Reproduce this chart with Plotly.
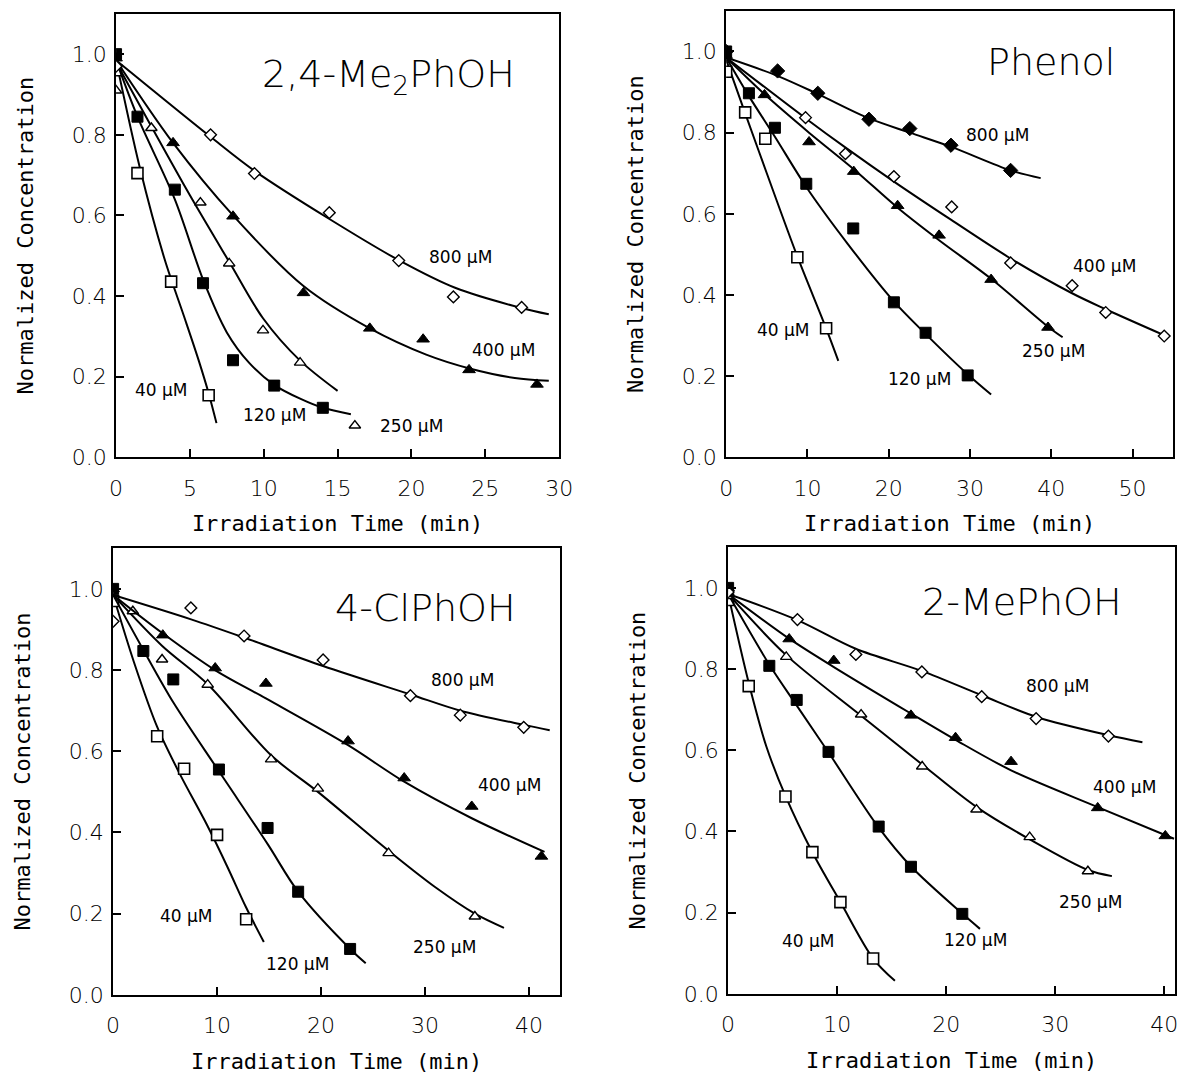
import plotly.graph_objects as go

# ---------------- Data ----------------
# Panel A: 2,4-Me2PhOH
dmp_40_t = [0, 1.45, 3.73, 6.27]
dmp_40_c = [0.96, 0.705, 0.436, 0.154]
dmp_40_fit_t = [0, 1.6, 3.3, 4.6, 5.6, 6.3, 6.8]
dmp_40_fit_c = [0.985, 0.72, 0.49, 0.35, 0.24, 0.155, 0.085]
dmp_120_t = [0, 1.45, 3.98, 5.89, 7.92, 10.71, 14.0]
dmp_120_c = [1.0, 0.845, 0.664, 0.432, 0.241, 0.178, 0.123]
dmp_120_fit_t = [0, 1.45, 3.98, 5.9, 7.5, 9.0, 10.7, 12.5, 14.0, 15.9]
dmp_120_fit_c = [0.985, 0.845, 0.64, 0.44, 0.31, 0.235, 0.18, 0.145, 0.123, 0.107]
dmp_250_t = [0, 2.39, 5.71, 7.66, 9.95, 12.46, 16.17]
dmp_250_c = [0.91, 0.817, 0.632, 0.481, 0.315, 0.235, 0.079]
dmp_250_fit_t = [0, 2.4, 5.0, 7.66, 9.95, 12.46, 15.0]
dmp_250_fit_c = [0.98, 0.82, 0.65, 0.485, 0.345, 0.24, 0.165]
dmp_400_t = [0, 3.86, 7.92, 12.69, 17.18, 20.79, 23.9, 28.5]
dmp_400_c = [0.99, 0.78, 0.598, 0.408, 0.32, 0.293, 0.217, 0.181]
dmp_400_fit_t = [0, 3.86, 7.92, 12.69, 17.18, 21.0, 24.0, 27.0, 29.3]
dmp_400_fit_c = [0.985, 0.78, 0.6, 0.425, 0.32, 0.255, 0.22, 0.197, 0.19]
dmp_800_t = [0, 6.4, 9.37, 14.44, 19.14, 22.84, 27.46]
dmp_800_c = [0.97, 0.80, 0.704, 0.607, 0.488, 0.398, 0.372]
dmp_800_fit_t = [0, 6.4, 9.4, 14.5, 19.2, 23.0, 27.5, 29.3]
dmp_800_fit_c = [0.985, 0.795, 0.71, 0.59, 0.488, 0.42, 0.37, 0.355]

# Panel B: Phenol
phe_40_t = [0, 2.34, 4.82, 8.76, 12.3]
phe_40_c = [0.95, 0.85, 0.785, 0.493, 0.318]
phe_40_fit_t = [0, 2.3, 5.0, 8.76, 12.3, 13.8]
phe_40_fit_c = [0.98, 0.85, 0.7, 0.495, 0.318, 0.238]
phe_120_t = [0, 2.8, 6.0, 9.86, 15.64, 20.64, 24.54, 29.72]
phe_120_c = [1.0, 0.897, 0.812, 0.674, 0.564, 0.382, 0.307, 0.202]
phe_120_fit_t = [0, 2.8, 6.0, 9.9, 15.0, 20.6, 24.5, 29.7, 32.6]
phe_120_fit_c = [0.985, 0.89, 0.79, 0.665, 0.525, 0.385, 0.305, 0.205, 0.155]
phe_250_t = [0, 4.72, 10.2, 15.7, 21.1, 26.2, 32.6, 39.6]
phe_250_c = [0.99, 0.893, 0.777, 0.704, 0.62, 0.547, 0.438, 0.32]
phe_250_fit_t = [0, 4.7, 10.2, 15.7, 21.1, 26.2, 32.6, 39.6, 41.4]
phe_250_fit_c = [0.985, 0.895, 0.8, 0.71, 0.615, 0.535, 0.44, 0.322, 0.296]
phe_400_t = [9.77, 14.68, 20.64, 27.75, 35.0, 42.57, 46.7, 53.9]
phe_400_c = [0.837, 0.748, 0.692, 0.617, 0.479, 0.423, 0.357, 0.299]
phe_400_fit_t = [0, 9.8, 14.7, 20.6, 27.7, 35.0, 42.5, 46.7, 54.0]
phe_400_fit_c = [0.985, 0.835, 0.763, 0.68, 0.585, 0.49, 0.405, 0.365, 0.3]
phe_800_t = [0, 6.33, 11.28, 17.57, 22.6, 27.66, 35.0]
phe_800_c = [1.0, 0.952, 0.897, 0.833, 0.81, 0.769, 0.707]
phe_800_fit_t = [0, 6.3, 11.3, 17.6, 22.6, 27.7, 35.0, 38.7]
phe_800_fit_c = [0.985, 0.94, 0.895, 0.835, 0.8, 0.765, 0.707, 0.688]

# Panel C: 4-ClPhOH
clp_40_t = [0, 4.24, 6.83, 10.0, 12.8]
clp_40_c = [0.97, 0.637, 0.557, 0.394, 0.186]
clp_40_fit_t = [0, 2.0, 4.24, 6.5, 9.0, 11.0, 12.8, 14.5]
clp_40_fit_c = [0.985, 0.82, 0.66, 0.54, 0.42, 0.315, 0.215, 0.13]
clp_120_t = [0, 2.91, 5.79, 10.18, 14.86, 17.8, 22.8]
clp_120_c = [1.0, 0.847, 0.777, 0.555, 0.411, 0.254, 0.113]
clp_120_fit_t = [0, 2.9, 5.8, 10.2, 14.9, 17.8, 22.8, 24.3]
clp_120_fit_c = [0.985, 0.85, 0.72, 0.55, 0.37, 0.254, 0.113, 0.078]
clp_250_t = [1.9, 4.71, 9.1, 15.2, 19.7, 26.5, 34.8]
clp_250_c = [0.945, 0.826, 0.764, 0.58, 0.508, 0.349, 0.193]
clp_250_fit_t = [0, 4.7, 9.1, 15.2, 19.7, 26.5, 31.0, 34.8, 37.6]
clp_250_fit_c = [0.985, 0.86, 0.765, 0.59, 0.5, 0.355, 0.265, 0.2, 0.165]
clp_400_t = [0, 4.78, 9.82, 14.7, 22.6, 28.0, 34.5, 41.2]
clp_400_c = [1.0, 0.886, 0.805, 0.767, 0.625, 0.534, 0.464, 0.341]
clp_400_fit_t = [0, 4.8, 9.8, 14.7, 22.6, 28.0, 34.5, 41.5]
clp_400_fit_c = [0.985, 0.89, 0.8, 0.73, 0.615, 0.525, 0.435, 0.352]
clp_800_t = [0, 7.48, 12.6, 20.2, 28.6, 33.4, 39.5]
clp_800_c = [0.92, 0.953, 0.884, 0.825, 0.737, 0.689, 0.659]
clp_800_fit_t = [0, 7.5, 12.6, 20.2, 28.6, 33.4, 39.5, 42.0]
clp_800_fit_c = [0.985, 0.925, 0.88, 0.81, 0.74, 0.7, 0.665, 0.652]

# Panel D: 2-MePhOH
mep_40_t = [0, 1.89, 5.26, 7.73, 10.3, 13.3]
mep_40_c = [0.97, 0.758, 0.486, 0.349, 0.226, 0.087]
mep_40_fit_t = [0, 1.9, 3.5, 5.3, 7.7, 10.3, 13.3, 15.3]
mep_40_fit_c = [0.985, 0.765, 0.61, 0.485, 0.35, 0.226, 0.087, 0.032]
mep_120_t = [0, 3.78, 6.29, 9.21, 13.81, 16.77, 21.48]
mep_120_c = [1.0, 0.808, 0.724, 0.596, 0.412, 0.313, 0.197]
mep_120_fit_t = [0, 3.8, 6.3, 9.2, 13.8, 16.8, 21.5, 23.1]
mep_120_fit_c = [0.985, 0.81, 0.71, 0.595, 0.41, 0.313, 0.197, 0.16]
mep_250_t = [0, 5.33, 12.2, 17.8, 22.78, 27.66, 33.0]
mep_250_c = [0.98, 0.83, 0.688, 0.56, 0.454, 0.386, 0.302]
mep_250_fit_t = [0, 5.3, 12.2, 17.8, 22.8, 27.7, 33.0, 35.2]
mep_250_fit_c = [0.985, 0.835, 0.685, 0.565, 0.46, 0.38, 0.305, 0.29]
mep_400_t = [0, 5.6, 9.69, 16.77, 20.86, 25.95, 33.9, 40.1]
mep_400_c = [1.0, 0.874, 0.821, 0.686, 0.631, 0.572, 0.458, 0.389]
mep_400_fit_t = [0, 5.6, 9.7, 16.8, 20.9, 26.0, 33.9, 40.9]
mep_400_fit_c = [0.985, 0.875, 0.805, 0.69, 0.625, 0.55, 0.46, 0.382]
mep_800_t = [0, 6.36, 11.72, 17.77, 23.26, 28.25, 34.88]
mep_800_c = [0.99, 0.922, 0.836, 0.793, 0.732, 0.678, 0.635]
mep_800_fit_t = [0, 6.4, 11.7, 17.8, 23.3, 28.3, 34.9, 38.0]
mep_800_fit_c = [0.985, 0.92, 0.85, 0.795, 0.735, 0.682, 0.637, 0.62]

panel_titles = ["2,4-Me<sub>2</sub>PhOH", "Phenol", "4-ClPhOH", "2-MePhOH"]
conc_labels = ["40 µM", "120 µM", "250 µM", "400 µM", "800 µM"]
x_title = "Irradiation Time (min)"
y_title = "Normalized Concentration"
y_tickvals = [0.0, 0.2, 0.4, 0.6, 0.8, 1.0]
y_ticktext = ["0.0", "0.2", "0.4", "0.6", "0.8", "1.0"]
x_ticks_a = [0, 5, 10, 15, 20, 25, 30]
x_ticks_b = [0, 10, 20, 30, 40, 50]
x_ticks_c = [0, 10, 20, 30, 40]
x_ticks_d = [0, 10, 20, 30, 40]

# ---------------- Styles ----------------
W, H = 1196, 1075
OPEN_SQ = dict(symbol="square", size=11, color="white", line=dict(color="black", width=1.6))
FILL_SQ = dict(symbol="square", size=11, color="black", line=dict(color="black", width=1))
OPEN_TRI = dict(symbol="triangle-up", size=10, color="white", line=dict(color="black", width=1.4))
FILL_TRI = dict(symbol="triangle-up", size=11, color="black", line=dict(color="black", width=1))
OPEN_DIA = dict(symbol="diamond", size=9, color="white", line=dict(color="black", width=1.4))
FILL_DIA = dict(symbol="diamond", size=11, color="black", line=dict(color="black", width=1))

fig = go.Figure()


def add_series(ax, t, c, ft, fc, marker):
    xr = "x" if ax == 1 else f"x{ax}"
    yr = "y" if ax == 1 else f"y{ax}"
    fig.add_trace(go.Scatter(x=ft, y=fc, mode="lines", xaxis=xr, yaxis=yr,
                             line=dict(color="black", width=2, shape="spline", smoothing=0.9),
                             showlegend=False, hoverinfo="skip"))
    fig.add_trace(go.Scatter(x=t, y=c, mode="markers", xaxis=xr, yaxis=yr,
                             marker=marker, showlegend=False))


# Panel A
add_series(1, dmp_40_t, dmp_40_c, dmp_40_fit_t, dmp_40_fit_c, OPEN_SQ)
add_series(1, dmp_120_t, dmp_120_c, dmp_120_fit_t, dmp_120_fit_c, FILL_SQ)
add_series(1, dmp_250_t, dmp_250_c, dmp_250_fit_t, dmp_250_fit_c, OPEN_TRI)
add_series(1, dmp_400_t, dmp_400_c, dmp_400_fit_t, dmp_400_fit_c, FILL_TRI)
add_series(1, dmp_800_t, dmp_800_c, dmp_800_fit_t, dmp_800_fit_c, OPEN_DIA)
# Panel B
add_series(2, phe_40_t, phe_40_c, phe_40_fit_t, phe_40_fit_c, OPEN_SQ)
add_series(2, phe_120_t, phe_120_c, phe_120_fit_t, phe_120_fit_c, FILL_SQ)
add_series(2, phe_250_t, phe_250_c, phe_250_fit_t, phe_250_fit_c, FILL_TRI)
add_series(2, phe_400_t, phe_400_c, phe_400_fit_t, phe_400_fit_c, OPEN_DIA)
add_series(2, phe_800_t, phe_800_c, phe_800_fit_t, phe_800_fit_c, FILL_DIA)
# Panel C
add_series(3, clp_40_t, clp_40_c, clp_40_fit_t, clp_40_fit_c, OPEN_SQ)
add_series(3, clp_120_t, clp_120_c, clp_120_fit_t, clp_120_fit_c, FILL_SQ)
add_series(3, clp_250_t, clp_250_c, clp_250_fit_t, clp_250_fit_c, OPEN_TRI)
add_series(3, clp_400_t, clp_400_c, clp_400_fit_t, clp_400_fit_c, FILL_TRI)
add_series(3, clp_800_t, clp_800_c, clp_800_fit_t, clp_800_fit_c, OPEN_DIA)
# Panel D
add_series(4, mep_40_t, mep_40_c, mep_40_fit_t, mep_40_fit_c, OPEN_SQ)
add_series(4, mep_120_t, mep_120_c, mep_120_fit_t, mep_120_fit_c, FILL_SQ)
add_series(4, mep_250_t, mep_250_c, mep_250_fit_t, mep_250_fit_c, OPEN_TRI)
add_series(4, mep_400_t, mep_400_c, mep_400_fit_t, mep_400_fit_c, FILL_TRI)
add_series(4, mep_800_t, mep_800_c, mep_800_fit_t, mep_800_fit_c, OPEN_DIA)

# ---------------- Axes ----------------
# pixel boxes (left, right, top, bottom)
boxes = [(111, 562, 14, 463), (732, 1187, 11, 463), (108, 563, 555, 1007), (734, 1189, 554, 1006)]
xranges = [[0, 30], [0, 55], [0, 43], [0, 41]]
xticks = [x_ticks_a, x_ticks_b, x_ticks_c, x_ticks_d]

tick_font = dict(family="DejaVu Sans", size=22, color="black", weight=300)
title_font = dict(family="DejaVu Sans Mono", size=22, color="black")

layout = dict(width=W, height=H, margin=dict(l=0, r=0, t=0, b=0),
              paper_bgcolor="white", plot_bgcolor="white", showlegend=False)
for i, (l, r, t, b) in enumerate(boxes):
    n = "" if i == 0 else str(i + 1)
    common = dict(showgrid=False, zeroline=False, showline=True, mirror=True,
                  linecolor="black", linewidth=2, ticks="inside", ticklen=8,
                  tickwidth=1.5, tickcolor="black", tickfont=tick_font)
    layout["xaxis" + n] = dict(common, domain=[l / W, r / W], range=xranges[i],
                               anchor="y" + n, tickmode="array", tickvals=xticks[i],
                               ticktext=[str(v) for v in xticks[i]], ticklabelstandoff=10,
                               title=dict(text=x_title, font=title_font, standoff=16))
    layout["yaxis" + n] = dict(common, domain=[1 - b / H, 1 - t / H], range=[0, 1.1],
                               anchor="x" + n, tickmode="array", tickvals=y_tickvals,
                               ticktext=y_ticktext, ticklabelstandoff=3,
                               title=dict(text=y_title, font=title_font, standoff=32))
fig.update_layout(**layout)

# ---------------- Annotations ----------------
lab_font = dict(family="DejaVu Sans", size=17, color="black")
big_font = dict(family="DejaVu Sans", size=38, color="black", weight=300)


def note(ax, x, y, text, font):
    xr = "x" if ax == 1 else f"x{ax}"
    yr = "y" if ax == 1 else f"y{ax}"
    fig.add_annotation(x=x, y=y, xref=xr, yref=yr, text=text, showarrow=False,
                       font=font, xanchor="center", yanchor="middle")


note(1, 18.45, 0.945, panel_titles[0], big_font)
note(2, 40.0, 0.975, panel_titles[1], big_font)
note(3, 30.0, 0.953, panel_titles[2], big_font)
note(4, 27.0, 0.965, panel_titles[3], big_font)

note(1, 3.1, 0.166, conc_labels[0], lab_font)
note(1, 10.7, 0.104, conc_labels[1], lab_font)
note(1, 20.0, 0.079, conc_labels[2], lab_font)
note(1, 26.2, 0.266, conc_labels[3], lab_font)
note(1, 23.3, 0.498, conc_labels[4], lab_font)

note(2, 7.0, 0.314, conc_labels[0], lab_font)
note(2, 23.8, 0.194, conc_labels[1], lab_font)
note(2, 40.3, 0.263, conc_labels[2], lab_font)
note(2, 46.5, 0.471, conc_labels[3], lab_font)
note(2, 33.4, 0.793, conc_labels[4], lab_font)

note(3, 7.1, 0.195, conc_labels[0], lab_font)
note(3, 17.7, 0.076, conc_labels[1], lab_font)
note(3, 31.9, 0.119, conc_labels[2], lab_font)
note(3, 38.1, 0.517, conc_labels[3], lab_font)
note(3, 33.6, 0.775, conc_labels[4], lab_font)

note(4, 7.4, 0.129, conc_labels[0], lab_font)
note(4, 22.7, 0.133, conc_labels[1], lab_font)
note(4, 33.2, 0.226, conc_labels[2], lab_font)
note(4, 36.4, 0.509, conc_labels[3], lab_font)
note(4, 30.2, 0.758, conc_labels[4], lab_font)

fig.write_html("out.html")
